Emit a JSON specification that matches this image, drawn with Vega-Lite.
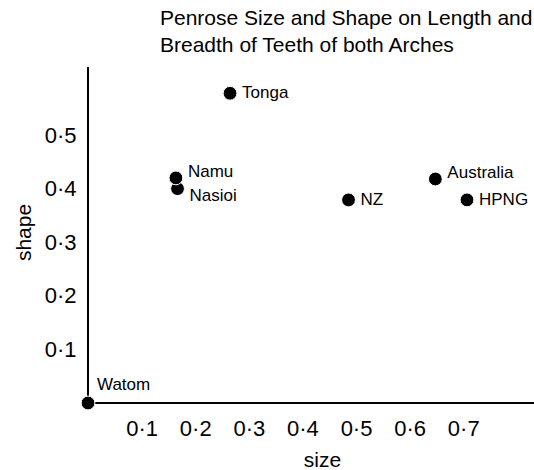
{
  "$schema": "https://vega.github.io/schema/vega-lite/v6.json",
  "width": 446,
  "height": 336,
  "autosize": {"type": "none"},
  "padding": {"left": 88, "top": 67, "right": 0, "bottom": 67},
  "background": "white",
  "config": {
    "view": {"stroke": null},
    "font": "Liberation Sans",
    "axis": {"ticks": false, "domain": false, "grid": false}
  },
  "title": {
    "text": ["Penrose Size and Shape on Length and", "Breadth of Teeth of both Arches"],
    "anchor": "start",
    "frame": "group",
    "dx": 72,
    "offset": 10,
    "fontSize": 21,
    "fontWeight": "normal",
    "lineHeight": 27,
    "color": "black",
    "font": "Liberation Sans"
  },
  "datasets": {
    "points": [
      {"group": "Watom", "size": 0.0, "shape": 0.0},
      {"group": "Nasioi", "size": 0.167, "shape": 0.400},
      {"group": "Namu", "size": 0.164, "shape": 0.420},
      {"group": "Tonga", "size": 0.265, "shape": 0.578},
      {"group": "NZ", "size": 0.486, "shape": 0.379},
      {"group": "Australia", "size": 0.648, "shape": 0.418},
      {"group": "HPNG", "size": 0.707, "shape": 0.379}
    ],
    "xticks": [{"size": 0.1, "top": 0.0224}, {"size": 0.2, "top": 0.0224}, {"size": 0.3, "top": 0.0224}, {"size": 0.4, "top": 0.0224}, {"size": 0.5, "top": 0.0224}, {"size": 0.6, "top": 0.0224}, {"size": 0.7, "top": 0.0224}],
    "yticks": [{"shape": 0.1, "end": 0.0243}, {"shape": 0.2, "end": 0.0243}, {"shape": 0.3, "end": 0.0243}, {"shape": 0.4, "end": 0.0243}, {"shape": 0.5, "end": 0.0243}]
  },
  "data": {"name": "points"},
  "encoding": {
    "x": {
      "field": "size",
      "type": "quantitative",
      "scale": {"domain": [0, 0.832], "nice": false, "zero": false},
      "axis": {
        "values": [0.1, 0.2, 0.3, 0.4, 0.5, 0.6, 0.7],
        "labelExpr": "replace(format(datum.value, '.1f'), '.', '·')",
        "labelPadding": 15,
        "labelFontSize": 22,
        "labelColor": "black",
        "title": "size",
        "titleFontSize": 21,
        "titleFontWeight": "normal",
        "titleColor": "black",
        "titleX": 234,
        "titleY": 57,
        "titleBaseline": "middle"
      }
    },
    "y": {
      "field": "shape",
      "type": "quantitative",
      "scale": {"domain": [0, 0.627], "nice": false, "zero": false},
      "axis": {
        "values": [0.1, 0.2, 0.3, 0.4, 0.5],
        "labelExpr": "replace(format(datum.value, '.1f'), '.', '·')",
        "labelPadding": 12,
        "labelFontSize": 22,
        "labelColor": "black",
        "title": "shape",
        "titleFontSize": 21,
        "titleFontWeight": "normal",
        "titleColor": "black",
        "titleAngle": -90,
        "titleX": -64,
        "titleY": 165,
        "titleBaseline": "middle",
        "titleAlign": "center"
      }
    }
  },
  "layer": [
    {
      "data": {"name": "xticks"},
      "mark": {"type": "rule", "color": "black", "strokeWidth": 1.5},
      "encoding": {
        "x": {"field": "size", "type": "quantitative"},
        "y": {"datum": 0, "type": "quantitative"},
        "y2": {"field": "top"}
      }
    },
    {
      "data": {"name": "yticks"},
      "mark": {"type": "rule", "color": "black", "strokeWidth": 1.5},
      "encoding": {
        "y": {"field": "shape", "type": "quantitative"},
        "x": {"datum": 0, "type": "quantitative"},
        "x2": {"field": "end"}
      }
    },
    {
      "mark": {"type": "rule", "color": "black", "strokeWidth": 1.5},
      "encoding": {"x": null, "y": {"datum": 0, "type": "quantitative"}}
    },
    {
      "mark": {"type": "rule", "color": "black", "strokeWidth": 1.5},
      "encoding": {"y": null, "x": {"datum": 0, "type": "quantitative"}}
    },
    {
      "mark": {"type": "circle", "size": 190, "color": "black", "opacity": 1, "stroke": "white", "strokeWidth": 1}
    },
    {
      "transform": [{"filter": "indexof(['Tonga','NZ','HPNG'], datum.group) >= 0"}],
      "mark": {"type": "text", "align": "left", "baseline": "middle", "dx": 12, "fontSize": 17, "color": "black"},
      "encoding": {"text": {"field": "group"}}
    },
    {
      "transform": [{"filter": "indexof(['Namu','Australia'], datum.group) >= 0"}],
      "mark": {"type": "text", "align": "left", "baseline": "middle", "dx": 12, "dy": -6, "fontSize": 17, "color": "black"},
      "encoding": {"text": {"field": "group"}}
    },
    {
      "transform": [{"filter": "datum.group == 'Nasioi'"}],
      "mark": {"type": "text", "align": "left", "baseline": "middle", "dx": 12, "dy": 7, "fontSize": 17, "color": "black"},
      "encoding": {"text": {"field": "group"}}
    },
    {
      "transform": [{"filter": "datum.group == 'Watom'"}],
      "mark": {"type": "text", "align": "left", "baseline": "middle", "dx": 9, "dy": -18, "fontSize": 17, "color": "black"},
      "encoding": {"text": {"field": "group"}}
    }
  ]
}
